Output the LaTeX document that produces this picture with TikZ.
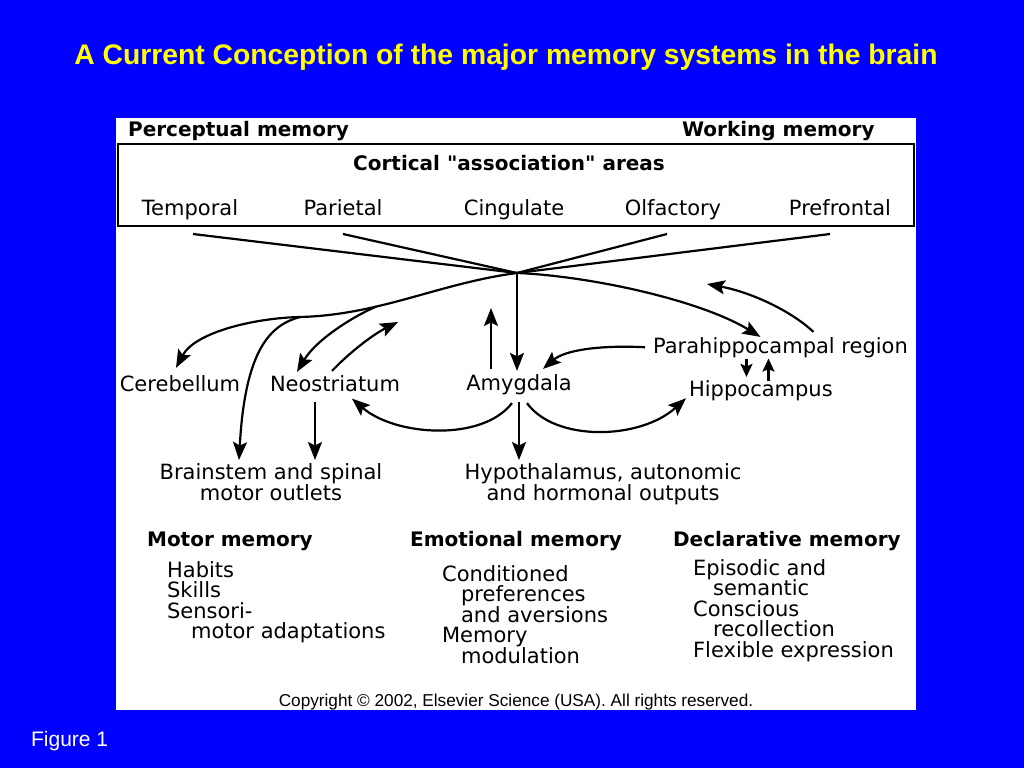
\documentclass[tikz,border=0pt]{standalone}
\usepackage{fontspec}
\setmainfont{DejaVu Sans}
\newfontfamily\arialfont{Liberation Sans}
\usepackage{xcolor}
\usetikzlibrary{arrows.meta}
\definecolor{slideblue}{RGB}{0,0,255}
\definecolor{slideyellow}{RGB}{255,255,0}

\begin{document}
\begin{tikzpicture}[x=1pt,y=-1pt]
\tikzstyle{every path}=[line width=2.2pt];
\tikzstyle{lbl}=[font=\fontsize{21}{20}\selectfont, text height=16pt, text depth=4.5pt, inner sep=2pt, anchor=base]
\tikzstyle{head}=[font=\fontsize{20}{20}\selectfont\bfseries, inner sep=0pt, anchor=base west]
\tikzstyle{twoline}=[font=\fontsize{21}{19.5}\selectfont, align=center, inner sep=2pt, anchor=north]
\tikzstyle{lst}=[font=\fontsize{21}{20.5}\selectfont, align=left, inner sep=0pt, anchor=north west]
\tikzstyle{arr}=[-{Stealth[length=18pt,width=14pt,inset=3.5pt]}]
\tikzstyle{sarr}=[-{Stealth[length=13pt,width=12pt,inset=2.5pt]}]
\fill[slideblue] (0,0) rectangle (1024,768);
\useasboundingbox (0,0) rectangle (1024,768);
\fill[white] (116,118) rectangle (916,710);
\draw (118,144) rectangle (914,226);
\path (506,64) node (title)[anchor=base, text=slideyellow, font=\arialfont\bfseries\fontsize{28.3}{28}\selectfont] {A Current Conception of the major memory systems in the brain}
(30,746) node (figno)[anchor=base west, inner sep=0pt, text=white, font=\arialfont\fontsize{21}{21}\selectfont] {Figure 1}
(127,136) node (perceptual)[head] {Perceptual memory}
(681,136) node (working)[head] {Working memory}
(509,170) node (cortical)[head, anchor=base] {Cortical \textquotedbl association\textquotedbl\ areas}
(190,215) node (temporal)[lbl] {Temporal}
(343,215) node (parietal)[lbl] {Parietal}
(514,215) node (cingulate)[lbl] {Cingulate}
(673,215) node (olfactory)[lbl] {Olfactory}
(840,215) node (prefrontal)[lbl] {Prefrontal}
(180,391) node (cerebellum)[lbl] {Cerebellum}
(335,391) node (neostriatum)[lbl] {Neostriatum}
(519,390) node (amygdala)[lbl] {Amygdala}
(650,353) node (para)[lbl, anchor=base west] {Parahippocampal region}
(686,396) node (hippocampus)[lbl, anchor=base west] {Hippocampus}
(271,460) node (brainstem)[twoline] {Brainstem and spinal\\motor outlets}
(603,460) node (hypothalamus)[twoline] {Hypothalamus, autonomic\\and hormonal outputs}
(146,546) node (motor)[head] {Motor memory}
(409,546) node (emotional)[head] {Emotional memory}
(672,546) node (declarative)[head] {Declarative memory}
(166,560) node (motorlist)[lst] {Habits\\Skills\\Sensori-\\\hspace*{24pt}motor adaptations}
(441,564) node (emolist)[lst] {Conditioned\\\hspace*{19pt}preferences\\\hspace*{19pt}and aversions\\Memory\\\hspace*{19pt}modulation}
(692,558) node (declist)[lst] {Episodic and\\\hspace*{20pt}semantic\\Conscious\\\hspace*{20pt}recollection\\Flexible expression}
(516,706) node (copyright)[anchor=base, font=\arialfont\fontsize{17.2}{17}\selectfont] {Copyright © 2002, Elsevier Science (USA). All rights reserved.};
\coordinate (hub) at (517,273);
\coordinate (forkB) at (300,317);
\coordinate (amyUp) at (491,308);
\coordinate (neoUp) at (398,322);
\coordinate (backTip) at (707,284);
\draw ([shift={(3pt,-19pt)}]temporal.base) -- (hub);
\draw ([yshift=-19pt]parietal.base) -- (hub);
\draw ([shift={(-6pt,-19pt)}]olfactory.base) -- (hub);
\draw ([shift={(-10pt,-19pt)}]prefrontal.base) -- (hub);
\draw[arr] (hub) -- (hub |- amygdala.north);
\draw[arr] (hub) .. controls (440,283) and (380,315) .. (forkB) coordinate[pos=0.66] (forkA) .. controls (255,318) and (195,332) .. ([shift={(-4pt,4pt)}]cerebellum.north);
\draw[arr] (forkA) .. controls (352,317) and (316,340) .. ([xshift=-38pt]neostriatum.north);
\draw[arr] (forkB) .. controls (270,325) and (245,350) .. ([xshift=-32pt]brainstem.north);
\draw[arr] ([shift={(-3pt,1pt)}]neostriatum.north) .. controls (348,354) and (372,335) .. (neoUp);
\draw[arr] ([shift={(-20pt,-3pt)}]neostriatum.south) -- ([xshift=-20pt]neostriatum.south |- brainstem.north);
\draw[arr] ([yshift=-4pt]amygdala.south) -- (amygdala.south |- hypothalamus.north);
\draw[arr] ([shift={(-28pt,2pt)}]amygdala.north) -- (amyUp);
\draw[arr] ([shift={(-7pt,-5.5pt)}]amygdala.south) .. controls (482,442) and (395,436) .. ([xshift=17pt]neostriatum.south);
\draw[arr] ([shift={(8pt,-5.5pt)}]amygdala.south) .. controls (555,442) and (640,440) .. ([yshift=-8pt]hippocampus.west);
\draw[arr] (hub) .. controls (590,276) and (700,300) .. ([shift={(-20pt,-3pt)}]para.north);
\draw[arr] ([shift={(33pt,2pt)}]para.north) .. controls (790,310) and (750,292) .. (backTip);
\draw[arr] ([xshift=-5pt]para.west) .. controls (600,345) and (565,350) .. ([shift={(24pt,2pt)}]amygdala.north);
\draw[sarr] ([shift={(-34pt,2pt)}]para.south) -- ([xshift=-34pt]para.south |- hippocampus.north);
\draw[sarr] ([shift={(-12pt,-4pt)}]para.south |- hippocampus.north) -- ([shift={(-12pt,2pt)}]para.south);
\end{tikzpicture}
\end{document}
